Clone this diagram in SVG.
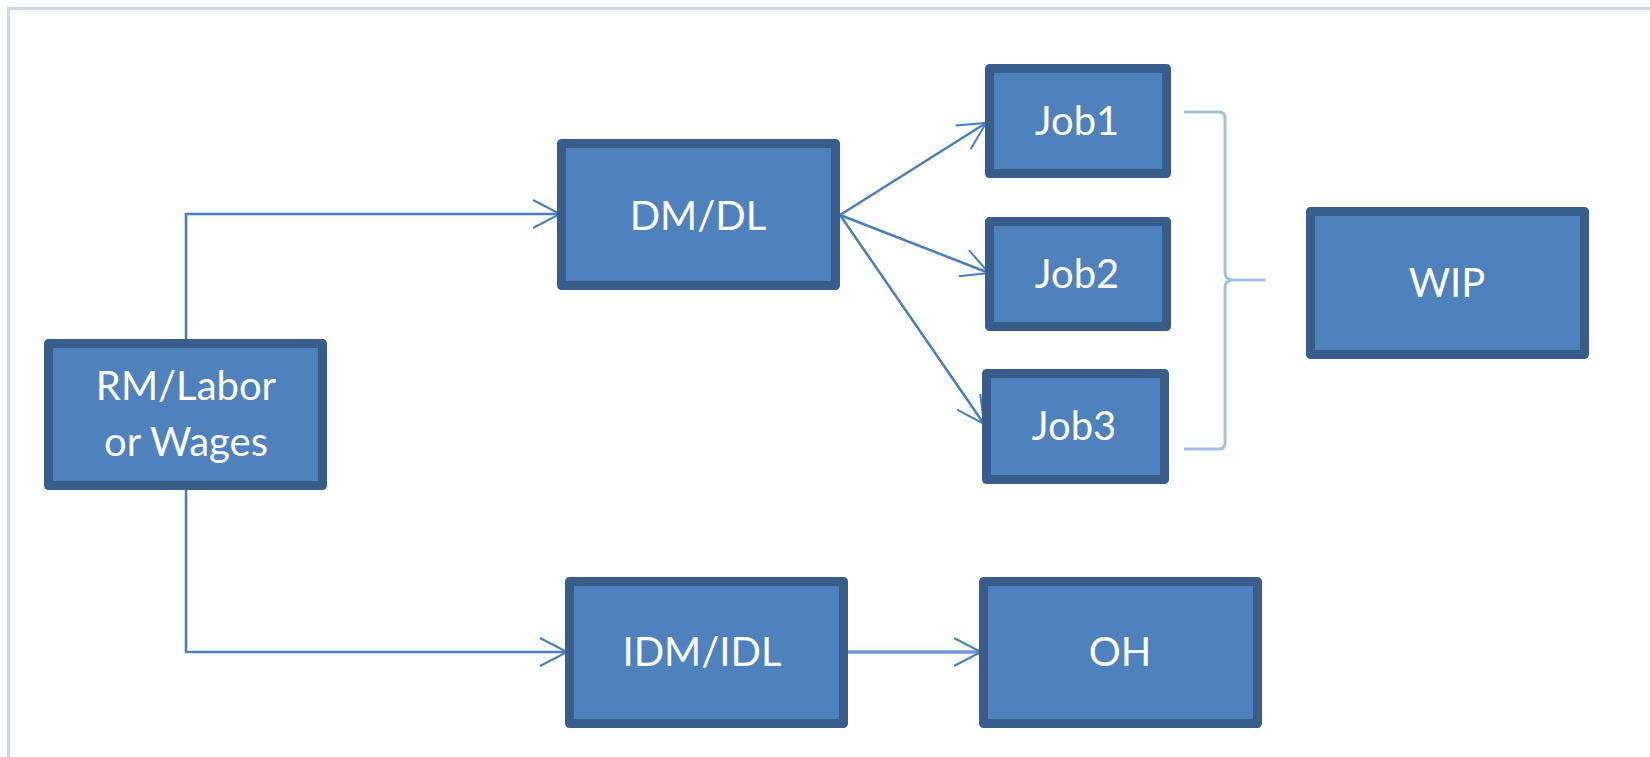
<svg xmlns="http://www.w3.org/2000/svg" width="1650" height="757" viewBox="0 0 1650 757">
  <style>
    .box { fill: #4f81bd; stroke: #385d8a; stroke-width: 9; stroke-linejoin: round; }
    .lbl { font-family: Lato, "Open Sans", sans-serif; font-size: 40px; fill: #ffffff; text-anchor: middle; }
    .conn { fill: none; stroke: #4a7ebb; stroke-width: 2.5; }
  </style>
  <defs>
    <marker id="arr" markerUnits="userSpaceOnUse" markerWidth="34" markerHeight="34" viewBox="-30 -17 34 34" refX="0" refY="0" orient="auto">
      <path d="M-27,-14 L0,0 L-27,14" fill="none" stroke="#4a7ebb" stroke-width="2"/>
    </marker>
  </defs>
  <rect width="1650" height="757" fill="#ffffff"/>
  <path d="M8.5,757 V8.5 H1650" fill="none" stroke="#cfd7e8" stroke-width="3"/>

  <g id="connectors">
    <path class="conn" d="M186,339 V214 H560" marker-end="url(#arr)"/>
    <path class="conn" d="M186,490 V652 H567" marker-end="url(#arr)"/>
    <path class="conn" d="M840,215 L986,123" marker-end="url(#arr)"/>
    <path class="conn" d="M840,215 L989,273" marker-end="url(#arr)"/>
    <path class="conn" d="M840,215 L984,424" marker-end="url(#arr)"/>
    <path d="M846,652 L981,652" fill="none" stroke="#7398c9" stroke-width="3.5" marker-end="url(#arr)"/>
    <path d="M1184,112 L1219,112 Q1225,112 1225,118 L1225,272 Q1225,280 1233,280 L1265,280 M1233,280 Q1225,280 1225,288 L1225,443 Q1225,449 1219,449 L1184,449" fill="none" stroke="#a7bfde" stroke-width="3"/>
  </g>

  <g id="rm">
    <rect class="box" x="48.5" y="343.5" width="274" height="142"/>
    <text class="lbl" x="186" y="400">RM/Labor</text>
    <text class="lbl" x="186" y="456">or Wages</text>
  </g>
  <g id="dmdl">
    <rect class="box" x="561.5" y="143.5" width="274" height="142"/>
    <text class="lbl" x="698" y="230">DM/DL</text>
  </g>
  <g id="job1">
    <rect class="box" x="989.5" y="68.5" width="177" height="105"/>
    <text class="lbl" x="1077" y="135">Job1</text>
  </g>
  <g id="job2">
    <rect class="box" x="989.5" y="221.5" width="177" height="105"/>
    <text class="lbl" x="1077" y="288">Job2</text>
  </g>
  <g id="job3">
    <rect class="box" x="986.5" y="373.5" width="178" height="106"/>
    <text class="lbl" x="1074" y="440">Job3</text>
  </g>
  <g id="wip">
    <rect class="box" x="1310.5" y="211.5" width="274" height="143"/>
    <text class="lbl" x="1447" y="297">WIP</text>
  </g>
  <g id="idmidl">
    <rect class="box" x="569.5" y="581.5" width="274" height="142"/>
    <text class="lbl" x="702" y="666">IDM/IDL</text>
  </g>
  <g id="oh">
    <rect class="box" x="983.5" y="581.5" width="274" height="142"/>
    <text class="lbl" x="1120" y="666">OH</text>
  </g>
</svg>
